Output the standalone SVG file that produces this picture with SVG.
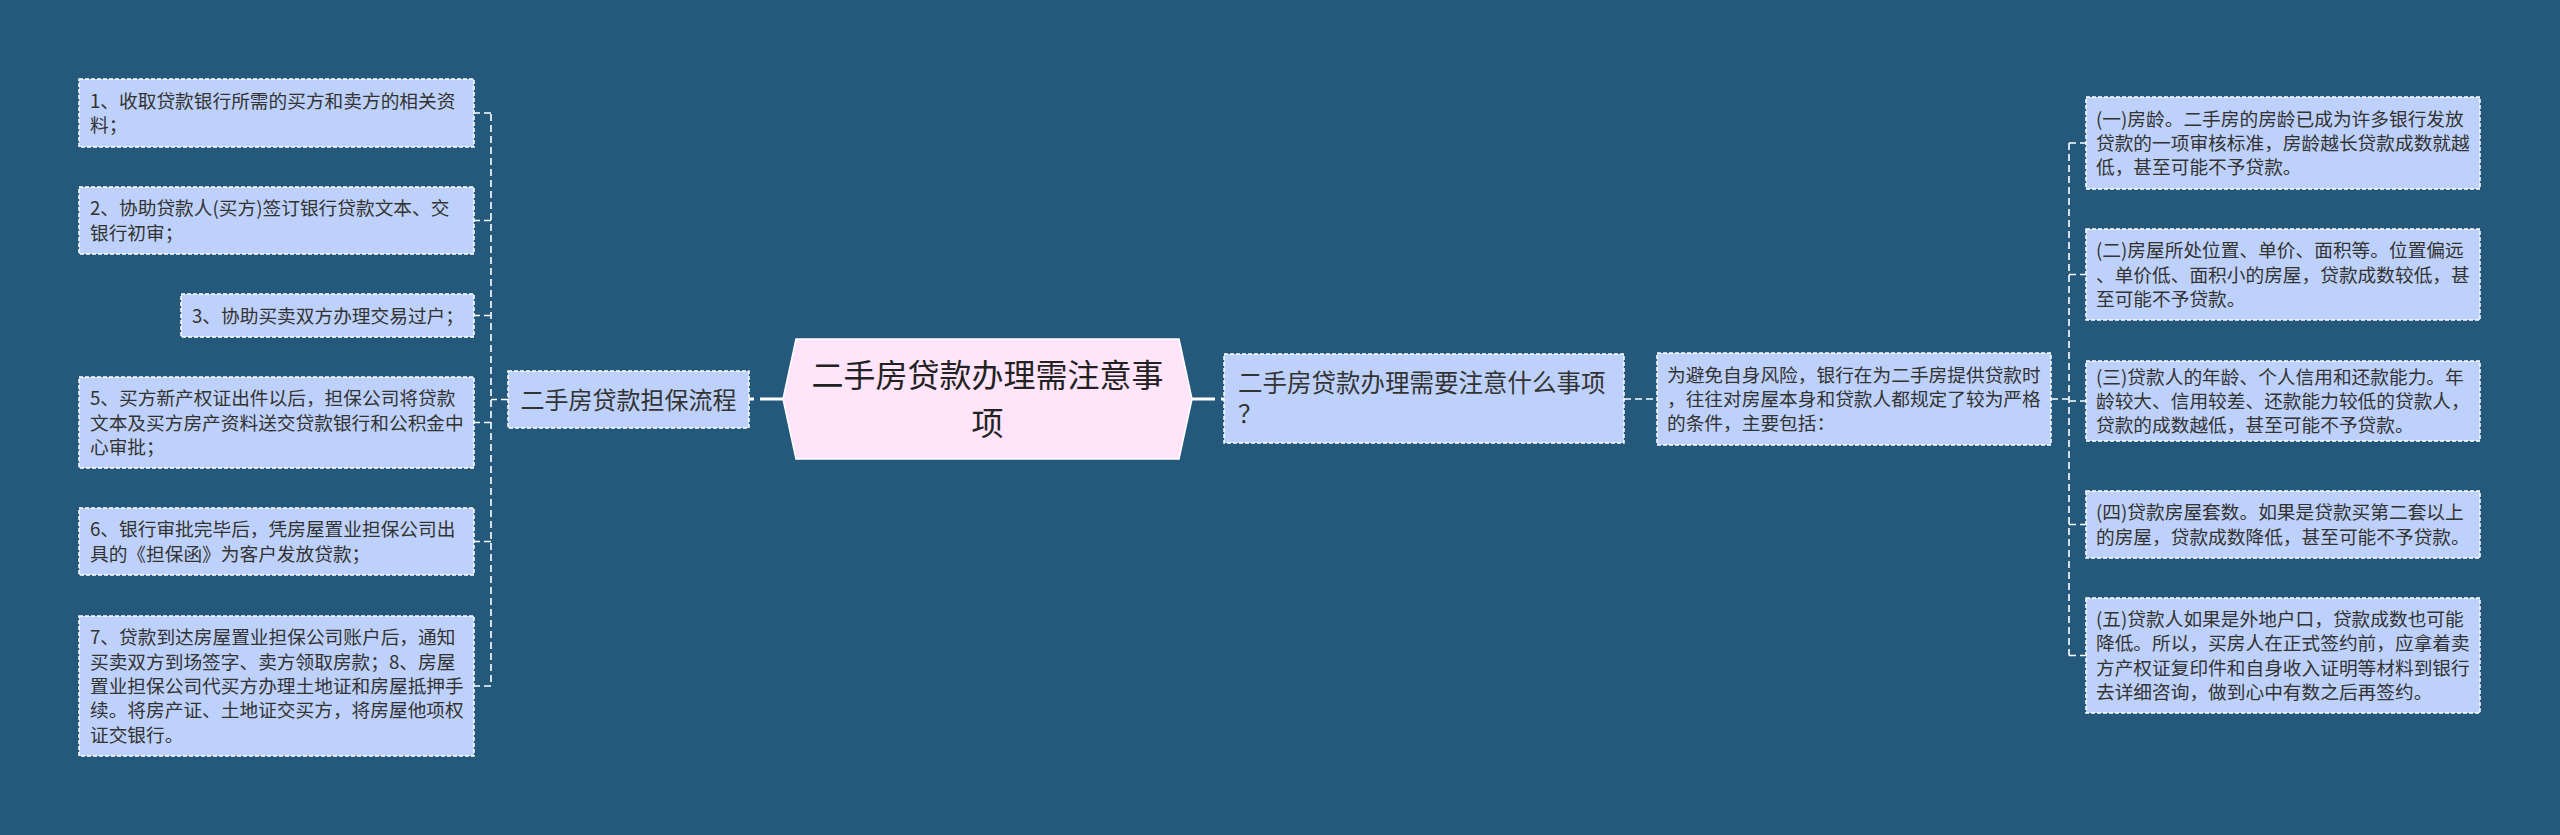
<svg xmlns="http://www.w3.org/2000/svg" width="2560" height="835" viewBox="0 0 2560 835">
<style>
.bg{fill:#24597B}
.box{fill:#BED1FA;stroke:#FFFFFF;stroke-width:1.5;stroke-dasharray:4 2}
.root{fill:#FFE4FA;stroke:#FFFFFF;stroke-width:1.5}
.t{font-family:"Noto Sans CJK SC","Noto Sans",sans-serif;font-size:18.7px;fill:#333333}
.tb{font-family:"Noto Sans CJK SC","Noto Sans",sans-serif;font-size:24px;fill:#333333}
.tr{font-family:"Noto Sans CJK SC","Noto Sans",sans-serif;font-size:32px;fill:#222222}
.c{fill:none;stroke:#FFFFFF;stroke-width:1.6;stroke-dasharray:7 4}
.cr{fill:none;stroke:#FFFFFF;stroke-width:3;stroke-dasharray:23 6}
</style>
<rect class="bg" x="0" y="0" width="2560" height="835"/>
<g id="connectors">
<path class="cr" d="M783,399 L748,399"/>
<path class="cr" d="M1192,399 L1224,399"/>
<path class="c" d="M508,399.5 L491,399.5"/>
<path class="c" d="M491,114 L491,686"/>
<path class="c" d="M491,113 L474,113"/>
<path class="c" d="M491,220.5 L474,220.5"/>
<path class="c" d="M491,315.5 L474,315.5"/>
<path class="c" d="M491,422.5 L474,422.5"/>
<path class="c" d="M491,541.5 L474,541.5"/>
<path class="c" d="M491,686 L474,686"/>
<path class="c" d="M1624,399 L1657,399"/>
<path class="c" d="M2051,399 L2069,399"/>
<path class="c" d="M2069,143 L2069,655.5"/>
<path class="c" d="M2069,143 L2086,143"/>
<path class="c" d="M2069,274.5 L2086,274.5"/>
<path class="c" d="M2069,401 L2086,401"/>
<path class="c" d="M2069,524.5 L2086,524.5"/>
<path class="c" d="M2069,655.5 L2086,655.5"/>
</g>
<g id="root">
<polygon class="root" points="783,399 796,339 1179,339 1192,399 1179,459 796,459"/>
<text class="tr" x="987.5" y="387" text-anchor="middle">二手房贷款办理需注意事</text>
<text class="tr" x="987.5" y="435" text-anchor="middle">项</text>
</g>
<g id="branch-left">
<rect class="box" x="508" y="371" width="241" height="57"/>
<text class="tb" x="628.5" y="408.5" text-anchor="middle">二手房贷款担保流程</text>
</g>
<g id="node-l1">
<rect class="box" x="79" y="79" width="395" height="68"/>
<text class="t" x="90" y="108">1、收取贷款银行所需的买方和卖方的相关资</text>
<text class="t" x="90" y="132">料；</text>
</g>
<g id="node-l2">
<rect class="box" x="79" y="187" width="395" height="67"/>
<text class="t" x="90" y="215.4">2、协助贷款人(买方)签订银行贷款文本、交</text>
<text class="t" x="90" y="239.6">银行初审；</text>
</g>
<g id="node-l3">
<rect class="box" x="181" y="294" width="293" height="43"/>
<text class="t" x="192" y="322.5">3、协助买卖双方办理交易过户；</text>
</g>
<g id="node-l5">
<rect class="box" x="79" y="377" width="395" height="91"/>
<text class="t" x="90" y="405.2">5、买方新产权证出件以后，担保公司将贷款</text>
<text class="t" x="90" y="429.5">文本及买方房产资料送交贷款银行和公积金中</text>
<text class="t" x="90" y="453.8">心审批；</text>
</g>
<g id="node-l6">
<rect class="box" x="79" y="508" width="395" height="67"/>
<text class="t" x="90" y="536.4">6、银行审批完毕后，凭房屋置业担保公司出</text>
<text class="t" x="90" y="560.6">具的《担保函》为客户发放贷款；</text>
</g>
<g id="node-l7">
<rect class="box" x="79" y="616" width="395" height="140"/>
<text class="t" x="90" y="644.4">7、贷款到达房屋置业担保公司账户后，通知</text>
<text class="t" x="90" y="668.7">买卖双方到场签字、卖方领取房款；8、房屋</text>
<text class="t" x="90" y="693">置业担保公司代买方办理土地证和房屋抵押手</text>
<text class="t" x="90" y="717.3">续。将房产证、土地证交买方，将房屋他项权</text>
<text class="t" x="90" y="741.6">证交银行。</text>
</g>
<g id="branch-right">
<rect class="box" x="1224" y="354" width="400" height="89"/>
<text class="tb" x="1238" y="392" style="font-size:24.5px">二手房贷款办理需要注意什么事项</text>
<text class="tb" x="1238" y="423" style="font-size:24.5px">？</text>
</g>
<g id="node-desc">
<rect class="box" x="1657" y="353" width="394" height="92"/>
<text class="t" x="1667" y="381.7">为避免自身风险，银行在为二手房提供贷款时</text>
<text class="t" x="1667" y="406">，往往对房屋本身和贷款人都规定了较为严格</text>
<text class="t" x="1667" y="430.3">的条件，主要包括：</text>
</g>
<g id="node-r1">
<rect class="box" x="2086" y="97" width="394" height="92"/>
<text class="t" x="2096" y="125.7">(一)房龄。二手房的房龄已成为许多银行发放</text>
<text class="t" x="2096" y="150">贷款的一项审核标准，房龄越长贷款成数就越</text>
<text class="t" x="2096" y="174.3">低，甚至可能不予贷款。</text>
</g>
<g id="node-r2">
<rect class="box" x="2086" y="229" width="394" height="91"/>
<text class="t" x="2096" y="257.2">(二)房屋所处位置、单价、面积等。位置偏远</text>
<text class="t" x="2096" y="281.5">、单价低、面积小的房屋，贷款成数较低，甚</text>
<text class="t" x="2096" y="305.8">至可能不予贷款。</text>
</g>
<g id="node-r3">
<rect class="box" x="2086" y="361" width="394" height="80"/>
<text class="t" x="2096" y="383.7">(三)贷款人的年龄、个人信用和还款能力。年</text>
<text class="t" x="2096" y="408">龄较大、信用较差、还款能力较低的贷款人，</text>
<text class="t" x="2096" y="432.3">贷款的成数越低，甚至可能不予贷款。</text>
</g>
<g id="node-r4">
<rect class="box" x="2086" y="491" width="394" height="67"/>
<text class="t" x="2096" y="519.4">(四)贷款房屋套数。如果是贷款买第二套以上</text>
<text class="t" x="2096" y="543.7">的房屋，贷款成数降低，甚至可能不予贷款。</text>
</g>
<g id="node-r5">
<rect class="box" x="2086" y="598" width="394" height="115"/>
<text class="t" x="2096" y="626">(五)贷款人如果是外地户口，贷款成数也可能</text>
<text class="t" x="2096" y="650.4">降低。所以，买房人在正式签约前，应拿着卖</text>
<text class="t" x="2096" y="674.7">方产权证复印件和自身收入证明等材料到银行</text>
<text class="t" x="2096" y="699">去详细咨询，做到心中有数之后再签约。</text>
</g>
</svg>
